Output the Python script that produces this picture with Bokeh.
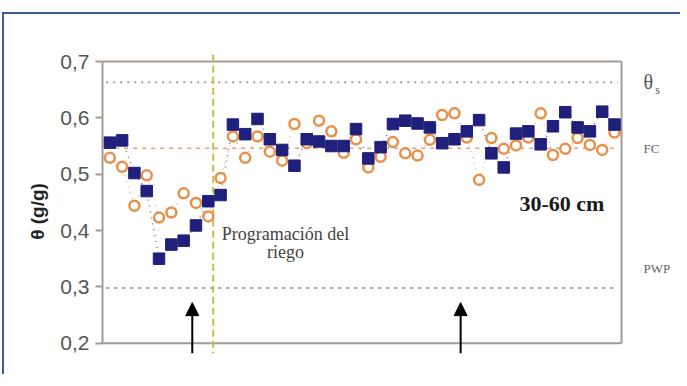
from bokeh.plotting import figure
from bokeh.models import Range1d, Arrow, NormalHead, FixedTicker
from bokeh.embed import file_html
from bokeh.resources import INLINE
from bokeh.core.properties import value

# ---------------- data ----------------
day = list(range(42))
theta_squares = [0.556, 0.560, 0.502, 0.470, 0.350, 0.375, 0.382, 0.409, 0.452, 0.463,
                 0.588, 0.571, 0.598, 0.562, 0.543, 0.515, 0.562, 0.558, 0.550, 0.550,
                 0.580, 0.528, 0.548, 0.589, 0.595, 0.590, 0.583, 0.555, 0.562, 0.576,
                 0.596, 0.537, 0.512, 0.572, 0.576, 0.553, 0.585, 0.610, 0.583, 0.576,
                 0.611, 0.588]
theta_circles = [0.529, 0.513, 0.444, 0.498, 0.423, 0.432, 0.466, 0.449, 0.425, 0.493,
                 0.567, 0.529, 0.567, 0.540, 0.524, 0.589, 0.555, 0.595, 0.576, 0.538,
                 0.562, 0.512, 0.531, 0.557, 0.537, 0.533, 0.561, 0.605, 0.608, 0.565,
                 0.490, 0.564, 0.545, 0.551, 0.565, 0.608, 0.534, 0.545, 0.564, 0.552,
                 0.543, 0.574]
theta_s = 0.663
field_capacity = 0.546
wilting_point = 0.298
irrigation_start = 8.4
arrow_days = [6.7, 28.5]
y_ticks = [0.2, 0.3, 0.4, 0.5, 0.6, 0.7]
y_tick_labels = ["0,2", "0,3", "0,4", "0,5", "0,6", "0,7"]
y_min, y_max = 0.2, 0.7
x_left, x_right = -0.593, 41.57

# ---------------- figure ----------------
p = figure(frame_width=578, frame_height=320,
           x_range=Range1d(-0.593, 46.36), y_range=Range1d(0.14977, 0.71775),
           output_backend="svg", toolbar_location=None,
           min_border_left=98, min_border_top=37, min_border_right=0, min_border_bottom=3)
p.styles = {"border-top": "2px solid #3a5a98", "border-left": "2px solid #3a5a98",
            "margin-top": "12px", "margin-left": "2px"}
p.background_fill_color = "white"
p.border_fill_color = "white"
p.outline_line_color = None
p.xgrid.visible = False
p.ygrid.visible = False
p.xaxis.visible = False

ax = p.yaxis[0]
ax.bounds = (y_min, y_max)
ax.ticker = FixedTicker(ticks=y_ticks)
ax.major_label_overrides = {t: l for t, l in zip(y_ticks, y_tick_labels)}
ax.axis_line_color = "#a29b95"
ax.axis_line_width = 2
ax.major_tick_line_color = "#a29b95"
ax.major_tick_line_width = 2
ax.major_tick_out = 7
ax.major_tick_in = 0
ax.minor_tick_line_color = None
ax.major_label_standoff = 6
ax.major_label_text_font = "Liberation Sans"
ax.major_label_text_font_size = "21px"
ax.major_label_text_color = "#555555"
ax.axis_label = "θ (g/g)"
ax.axis_label_text_font = "Liberation Sans"
ax.axis_label_text_font_style = "bold"
ax.axis_label_text_font_size = "19px"
ax.axis_label_text_color = "#222222"
ax.axis_label_standoff = 9

# frame box (top, bottom, right)
p.segment(x0=[x_left, x_left, x_right], y0=[y_max, y_min, y_min],
          x1=[x_right, x_right, x_right], y1=[y_max, y_min, y_max],
          line_color="#a29b95", line_width=2)

# reference lines
p.segment(x0=[x_left + 0.3], y0=[theta_s], x1=[x_right - 0.3], y1=[theta_s],
          line_color="#b09c90", line_width=2, line_dash="2 5")
p.segment(x0=[x_left + 0.3], y0=[field_capacity], x1=[x_right - 0.3], y1=[field_capacity],
          line_color="#e2a27e", line_width=1.5, line_dash="4 5")
p.segment(x0=[x_left + 0.3], y0=[wilting_point], x1=[x_right - 0.3], y1=[wilting_point],
          line_color="#a6a6a0", line_width=2, line_dash="3 5")

# irrigation scheduling line
p.segment(x0=[irrigation_start], y0=[0.712], x1=[irrigation_start], y1=[0.182],
          line_color="#c9bb4a", line_width=2, line_dash="7 4")

# connecting dotted lines
p.line(day, theta_circles, line_color="#e8904a", line_width=1.5, line_dash="1 5", alpha=0.7)
p.line(day, theta_squares, line_color="#303070", line_width=1.5, line_dash="1 5", alpha=0.7)

# markers
p.scatter(day, theta_circles, marker="circle", size=10, fill_color="white",
          line_color="#e8904a", line_width=2.5)
p.scatter(day, theta_squares, marker="square", size=11.5, fill_color="#1f1f7c",
          line_color="#1f1f7c")

# arrows
for d in arrow_days:
    p.add_layout(Arrow(end=NormalHead(size=13, fill_color="black", line_color="black"),
                       x_start=d, y_start=0.182, x_end=d, y_end=0.272,
                       line_color="black", line_width=2))

# texts
serif = value("Liberation Serif")
p.text(x=[33.28], y=[0.448], text=["30-60 cm"], text_font=serif, text_font_size="22px",
       text_font_style="bold", text_color="#1a1a1a", text_baseline="alphabetic")
p.text(x=[14.27, 14.27], y=[0.393, 0.361], text=["Programación del", "riego"],
       text_font=serif, text_font_size="18px", text_color="#444444",
       text_align="center", text_baseline="alphabetic")
p.text(x=[43.36], y=[theta_s], text=["θ"], text_font=serif, text_font_size="20px",
       text_color="#555555", text_baseline="middle")
p.text(x=[44.3], y=[theta_s - 0.013], text=["s"], text_font=serif, text_font_size="12px",
       text_color="#555555", text_baseline="middle")
p.text(x=[43.36, 43.36], y=[field_capacity, 0.333], text=["FC", "PWP"], text_font=serif,
       text_font_size="13px", text_color="#666666", text_baseline="middle")

open("out.html", "w").write(file_html(p, INLINE))
